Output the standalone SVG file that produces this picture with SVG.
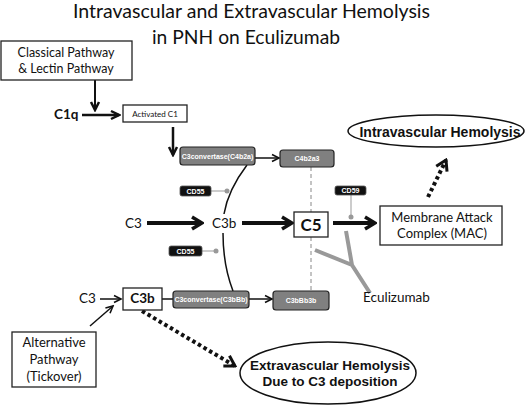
<svg xmlns="http://www.w3.org/2000/svg" width="526" height="405" viewBox="0 0 526 405">
<style>
.cal{font-family:Lato,"Liberation Sans",sans-serif;fill:#111}
.ar{font-family:"Liberation Sans",Arial,sans-serif;font-weight:bold}
.wbox{fill:#fff;stroke:#222;stroke-width:1.3}
.gbox{fill:#808080;stroke:#222;stroke-width:1.2}
.cd{fill:#111;stroke:#555;stroke-width:0.8}
.wt{fill:#fff;font-size:7px}
.ln{fill:none;stroke:#111}
.dot{fill:none;stroke:#111;stroke-width:4;stroke-dasharray:3.5 3}
.grey{fill:none;stroke:#999}
</style>
<defs>
<marker id="ahThick" markerUnits="userSpaceOnUse" viewBox="0 0 14 16" refX="12" refY="8" markerWidth="14" markerHeight="16" orient="auto">
<path d="M2,2 L12,8 L2,14" fill="none" stroke="#111" stroke-width="3.5"/>
</marker>
<marker id="ahMed" markerUnits="userSpaceOnUse" viewBox="0 0 12 12" refX="10" refY="6" markerWidth="12" markerHeight="12" orient="auto">
<path d="M2,2 L10,6 L2,10" fill="none" stroke="#111" stroke-width="2.5"/>
</marker>
<marker id="ahThin" markerUnits="userSpaceOnUse" viewBox="0 0 10 10" refX="8.5" refY="5" markerWidth="10" markerHeight="10" orient="auto">
<path d="M1.5,1.5 L8.5,5 L1.5,8.5" fill="none" stroke="#111" stroke-width="1.6"/>
</marker>
<marker id="ahDot" markerUnits="userSpaceOnUse" viewBox="0 0 14 16" refX="12" refY="8" markerWidth="14" markerHeight="16" orient="auto">
<path d="M2,2 L12,8 L2,14" fill="none" stroke="#111" stroke-width="3"/>
</marker>
</defs>
<rect width="526" height="405" fill="#fff"/>

<g id="title">
<text class="cal" x="251.5" y="18" font-size="19" text-anchor="middle" textLength="357" lengthAdjust="spacingAndGlyphs">Intravascular and Extravascular Hemolysis</text>
<text class="cal" x="246" y="44" font-size="19" text-anchor="middle" textLength="188" lengthAdjust="spacingAndGlyphs">in PNH on Eculizumab</text>
</g>

<g id="connectors">
<line class="ln" x1="95" y1="80" x2="95" y2="110" stroke-width="2" marker-end="url(#ahMed)"/>
<line class="ln" x1="82" y1="115" x2="119" y2="115" stroke-width="2.5" marker-end="url(#ahMed)"/>
<line class="ln" x1="173" y1="127" x2="173" y2="155" stroke-width="2.5" marker-end="url(#ahMed)"/>
<line class="ln" x1="255" y1="158" x2="279" y2="158" stroke-width="1.5" marker-end="url(#ahThin)"/>
<line class="ln" x1="147" y1="223" x2="202" y2="223" stroke-width="4" marker-end="url(#ahThick)"/>
<line class="ln" x1="242" y1="223" x2="292" y2="223" stroke-width="4" marker-end="url(#ahThick)"/>
<line class="ln" x1="333" y1="223" x2="375" y2="223" stroke-width="4" marker-end="url(#ahThick)"/>
<line class="ln" x1="100" y1="299" x2="121" y2="299" stroke-width="1.5" marker-end="url(#ahThin)"/>
<line class="ln" x1="90" y1="326" x2="113" y2="306" stroke-width="1.5" marker-end="url(#ahThin)"/>
<line class="ln" x1="162" y1="299" x2="173" y2="299" stroke-width="1.5"/>
<line class="ln" x1="249" y1="299" x2="272" y2="299" stroke-width="1.5" marker-end="url(#ahThin)"/>
<path class="ln" d="M247,165 Q228,190 224,214" stroke-width="1.5"/>
<path class="ln" d="M223,233 Q223,265 233,291" stroke-width="1.5"/>
<line x1="311" y1="167" x2="311" y2="291" stroke="#888" stroke-width="1" stroke-dasharray="4 3"/>
<line class="dot" x1="428" y1="197" x2="446" y2="160" marker-end="url(#ahDot)"/>
<line class="dot" x1="142" y1="311" x2="235" y2="366" marker-end="url(#ahDot)"/>
<line class="grey" x1="211" y1="191" x2="227" y2="191" stroke-width="1"/>
<line class="grey" x1="202" y1="251" x2="216" y2="251" stroke-width="1"/>
<line class="grey" x1="351" y1="195" x2="351" y2="217" stroke-width="1"/>
</g>

<g id="classical">
<rect class="wbox" x="1" y="41" width="131" height="39"/>
<text class="cal" x="66" y="57" font-size="12.5" text-anchor="middle">Classical Pathway</text>
<text class="cal" x="66" y="73" font-size="12.5" text-anchor="middle">&amp; Lectin Pathway</text>
</g>

<g id="c1q"><text class="cal" x="54" y="119" font-size="13.5" font-weight="bold">C1q</text></g>

<g id="activatedC1">
<rect class="wbox" x="123" y="105" width="64" height="17" stroke-width="1"/>
<text class="cal" x="155" y="117" font-size="8" text-anchor="middle">Activated C1</text>
</g>

<g id="c3convC4b2a">
<rect class="gbox" x="180" y="147" width="75" height="18" rx="3"/>
<text class="ar wt" x="217.5" y="159" text-anchor="middle">C3convertase(C4b2a)</text>
</g>

<g id="c4b2a3">
<rect class="gbox" x="280" y="150" width="54" height="17" rx="3"/>
<text class="ar wt" x="307" y="161" text-anchor="middle">C4b2a3</text>
</g>

<g id="cd55a">
<rect class="cd" x="180" y="186" width="31" height="10" rx="2"/>
<text class="ar wt" x="195.5" y="193.5" text-anchor="middle">CD55</text>
<circle cx="227" cy="191" r="2.5" fill="#999"/>
</g>

<g id="cd55b">
<rect class="cd" x="169" y="246" width="33" height="10" rx="2"/>
<text class="ar wt" x="185.5" y="253.5" text-anchor="middle">CD55</text>
<circle cx="216" cy="251" r="2.5" fill="#999"/>
</g>

<g id="cd59">
<rect class="cd" x="335" y="186" width="31" height="9" rx="2"/>
<text class="ar wt" x="350.5" y="193" text-anchor="middle">CD59</text>
<circle cx="351" cy="217" r="2.5" fill="#999"/>
</g>

<g id="c3mid"><text class="cal" x="125" y="228" font-size="13.5">C3</text></g>
<g id="c3bmid"><text class="cal" x="212" y="228" font-size="13.5">C3b</text></g>

<g id="c5">
<rect class="wbox" x="294" y="212" width="34" height="25" stroke-width="1.5"/>
<text class="cal" x="311" y="231" font-size="17" font-weight="bold" text-anchor="middle">C5</text>
</g>

<g id="mac">
<rect class="wbox" x="380" y="206" width="122" height="39"/>
<text class="cal" x="442" y="222" font-size="13" text-anchor="middle">Membrane Attack</text>
<text class="cal" x="442" y="238" font-size="13" text-anchor="middle">Complex (MAC)</text>
</g>

<g id="intravascular">
<ellipse cx="436" cy="131" rx="88" ry="16" fill="#fff" stroke="#111" stroke-width="1.5"/>
<text class="ar" x="440" y="137" font-size="14" text-anchor="middle" fill="#111">Intravascular Hemolysis</text>
</g>

<g id="eculizumab">
<path class="grey" d="M315,250 L352,265 M346,231 L352,265 L370,293" stroke-width="4"/>
<text class="cal" x="363" y="302" font-size="13.5">Eculizumab</text>
</g>

<g id="c3alt"><text class="cal" x="79" y="303" font-size="13.5">C3</text></g>

<g id="c3balt">
<rect class="wbox" x="123" y="288" width="39" height="22" stroke-width="1.5"/>
<text class="cal" x="142.5" y="303" font-size="13.5" font-weight="bold" text-anchor="middle">C3b</text>
</g>

<g id="c3convC3bBb">
<rect class="gbox" x="173" y="291" width="76" height="17" rx="3"/>
<text class="ar wt" x="211" y="302" text-anchor="middle">C3convertase(C3bBb)</text>
</g>

<g id="c3bBb3b">
<rect class="gbox" x="273" y="291" width="56" height="19" rx="3"/>
<text class="ar wt" x="301" y="303" text-anchor="middle">C3bBb3b</text>
</g>

<g id="alternative">
<rect class="wbox" x="12" y="332" width="84" height="55"/>
<text class="cal" x="54" y="347" font-size="13" text-anchor="middle">Alternative</text>
<text class="cal" x="54" y="364" font-size="13" text-anchor="middle">Pathway</text>
<text class="cal" x="54" y="381" font-size="13" text-anchor="middle">(Tickover)</text>
</g>

<g id="extravascular">
<ellipse cx="328" cy="373" rx="88" ry="31" fill="#fff" stroke="#111" stroke-width="1.5"/>
<text class="ar" x="330" y="370" font-size="13.5" text-anchor="middle" fill="#111">Extravascular Hemolysis</text>
<text class="ar" x="330" y="386" font-size="13.5" text-anchor="middle" fill="#111">Due to C3 deposition</text>
</g>
</svg>
